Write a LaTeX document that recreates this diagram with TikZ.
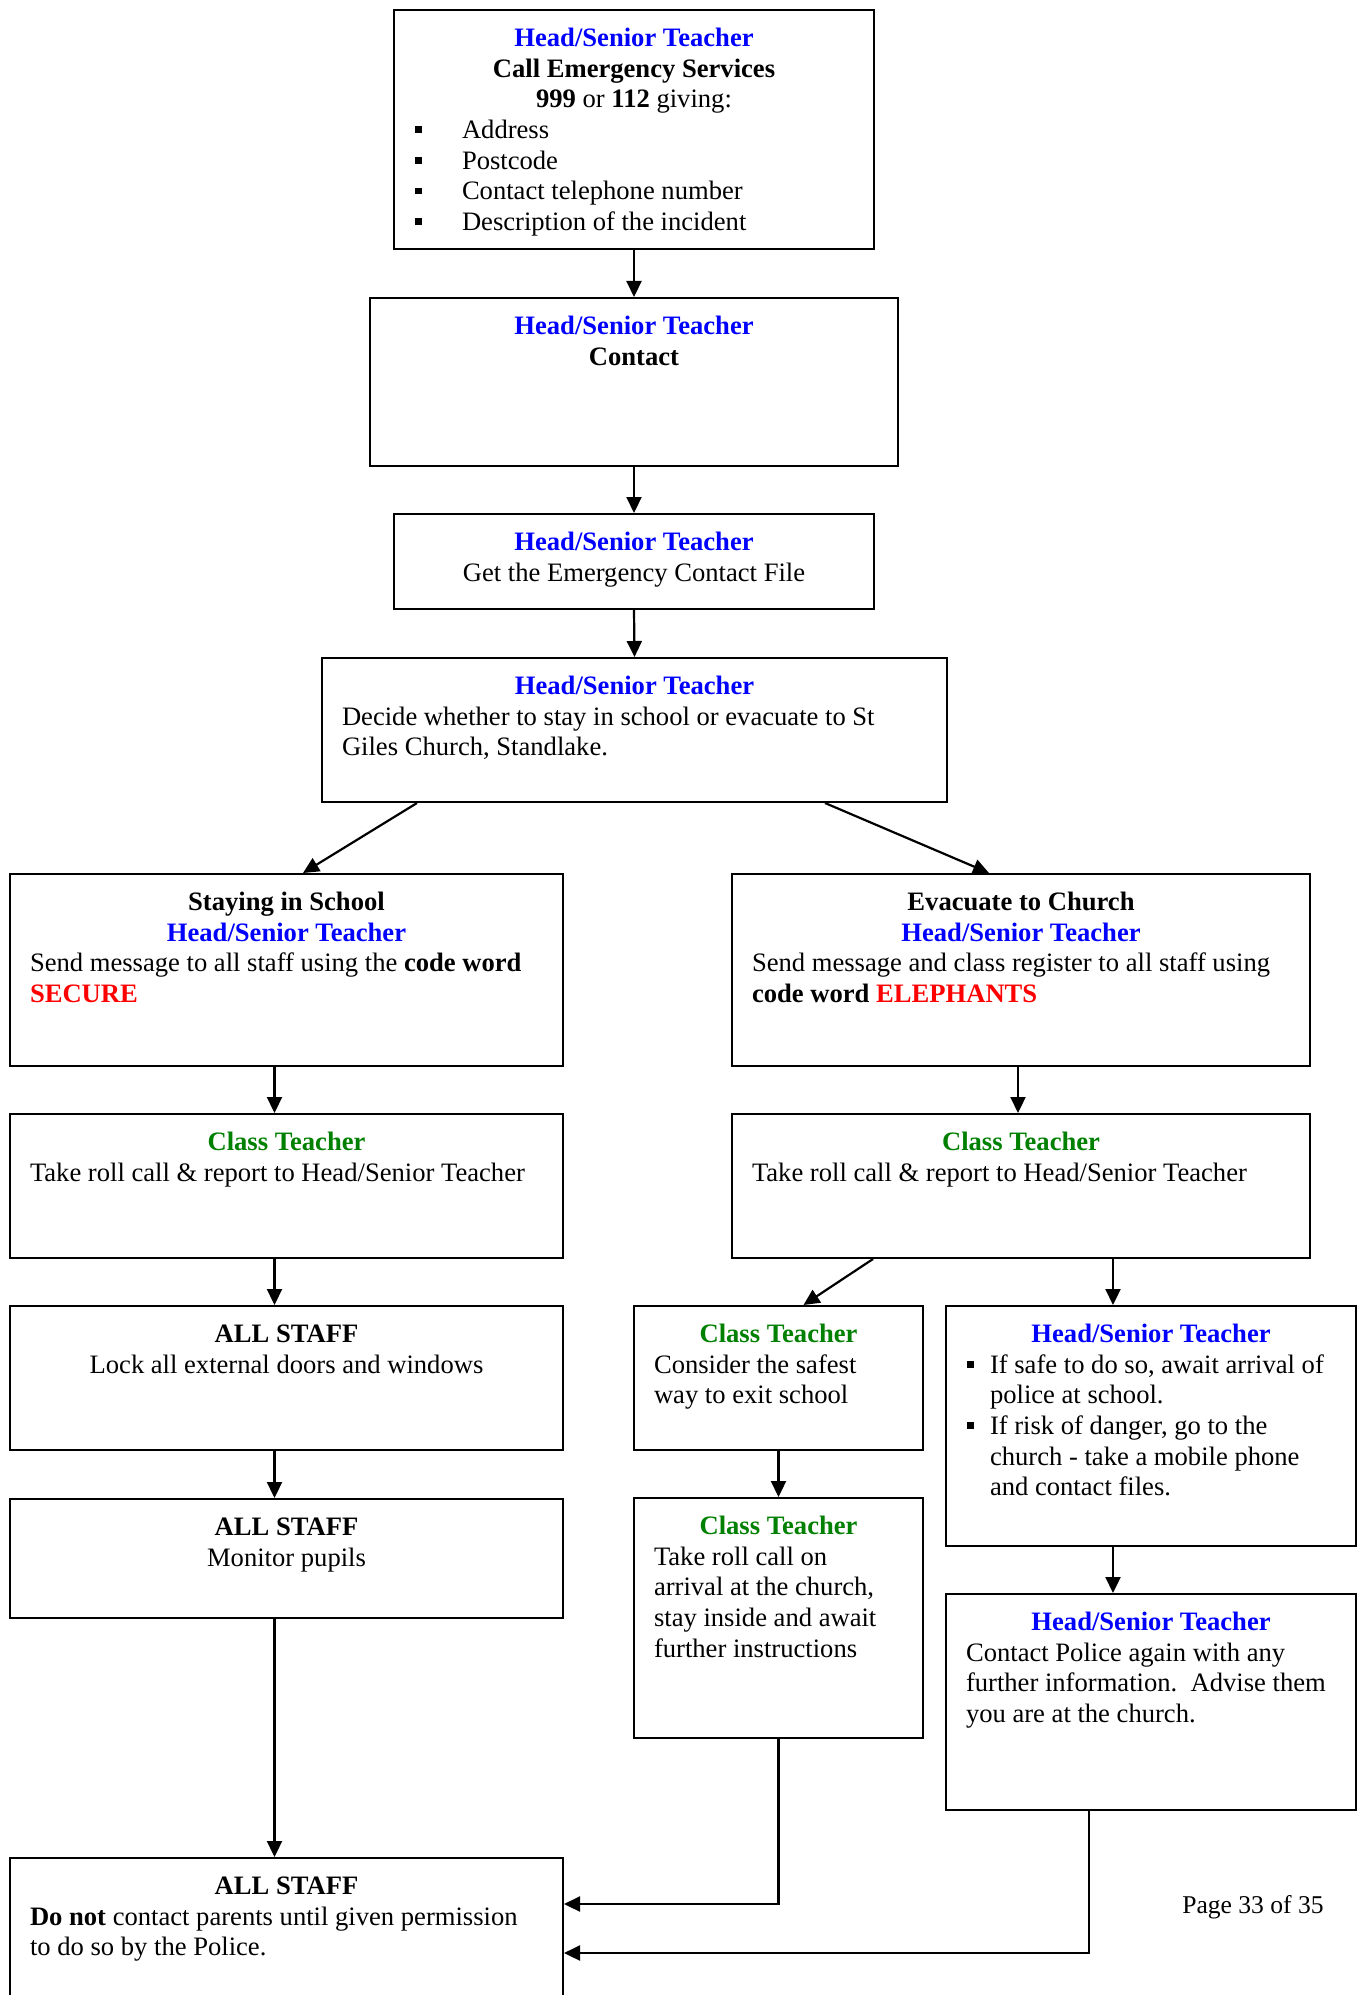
\documentclass[tikz,border=0pt]{standalone}
\usepackage{fontspec}
\setmainfont{Liberation Serif}
\usetikzlibrary{arrows.meta,fit,calc}

\definecolor{hsblue}{RGB}{0,0,255}
\definecolor{ctgreen}{RGB}{0,128,0}
\definecolor{cwred}{RGB}{255,0,0}

\newcommand{\bodyfont}{\fontsize{13.3}{15.3}\selectfont}
\newcommand{\ctrline}[1]{{\centering\strut#1\par}}
\newcommand{\rolehead}[2][hsblue]{\ctrline{\textbf{\color{#1}#2}}}
\newcommand{\sqbullet}{\raisebox{2.6pt}{\rule{3.4pt}{3.4pt}}}
\newcommand{\sqitem}[2][12pt]{\par\hangindent=#1\hangafter=1\noindent\makebox[#1][l]{\hspace{0.6pt}\sqbullet}#2\par}

\begin{document}
\begin{tikzpicture}[x=0.5pt, y=-0.5pt,
    box/.style={draw, line width=1pt, inner sep=0pt},
    txt/.style={anchor=north, align=left, inner xsep=10pt, inner ysep=7.9pt, font=\bodyfont,
        execute at begin node={\spaceskip=0pt\xspaceskip=0pt\relax}},
    link/.style={line width=1.1pt, -{Triangle[length=8pt,width=7.5pt]}}]
    \useasboundingbox (0,0) rectangle (1360,1995);
    \clip (0,0) rectangle (1360,1995);

    % First steps, down the middle
    \node[box, fit={(394,10) (874,249)}] (call) {};
    \node[txt, text width=220pt] (call text) at (call.north) {\rolehead{Head/Senior Teacher}\ctrline{\textbf{Call Emergency Services}}\ctrline{\textbf{999} or \textbf{112} giving:}\sqitem[24pt]{Address}\sqitem[24pt]{Postcode}\sqitem[24pt]{Contact telephone number}\sqitem[24pt]{Description of the incident}};

    \node[box, fit={(370,298) (898,466)}] (contact) {};
    \node[txt, text width=244pt] (contact text) at (contact.north) {\rolehead{Head/Senior Teacher}\ctrline{\textbf{Contact}}};

    \node[box, fit={(394,514) (874,609)}] (file) {};
    \node[txt, text width=220pt] (file text) at (file.north) {\rolehead{Head/Senior Teacher}\ctrline{Get the Emergency Contact File}};

    \node[box, fit={(322,658) (947,802)}] (decide) {};
    \node[txt, text width=292.5pt] (decide text) at (decide.north) {\rolehead{Head/Senior Teacher}Decide whether to stay in school or evacuate to St\newline Giles Church, Standlake.};

    % Staying in school (left column)
    \node[box, fit={(10,874) (563,1066)}] (stay) {};
    \node[txt, text width=256.5pt] (stay text) at (stay.north) {\ctrline{\textbf{Staying in School}}\rolehead{Head/Senior Teacher}Send message to all staff using the \textbf{code word}\newline\textbf{\color{cwred}SECURE}};

    \node[box, fit={(10,1114) (563,1258)}] (rollL) {};
    \node[txt, text width=256.5pt] (rollL text) at (rollL.north) {\rolehead[ctgreen]{Class Teacher}Take roll call \& report to Head/Senior Teacher};

    \node[box, fit={(10,1306) (563,1450)}] (lock) {};
    \node[txt, text width=256.5pt] (lock text) at (lock.north) {\ctrline{\textbf{ALL STAFF}}\ctrline{Lock all external doors and windows}};

    \node[box, fit={(10,1499) (563,1618)}] (monitor) {};
    \node[txt, text width=256.5pt] (monitor text) at (monitor.north) {\ctrline{\textbf{ALL STAFF}}\ctrline{Monitor pupils}};

    \node[box, fit={(10,1858) (563,2040)}] (parents) {};
    \node[txt, text width=256.5pt] (parents text) at (parents.north) {\ctrline{\textbf{ALL STAFF}}\textbf{Do not} contact parents until given permission\newline to do so by the Police.};

    % Evacuate to church (right columns)
    \node[box, fit={(732,874) (1310,1066)}] (evac) {};
    \node[txt, text width=269pt] (evac text) at (evac.north) {\ctrline{\textbf{Evacuate to Church}}\rolehead{Head/Senior Teacher}Send message and class register to all staff using\newline\textbf{code word \color{cwred}ELEPHANTS}};

    \node[box, fit={(732,1114) (1310,1258)}] (rollR) {};
    \node[txt, text width=269pt] (rollR text) at (rollR.north) {\rolehead[ctgreen]{Class Teacher}Take roll call \& report to Head/Senior Teacher};

    \node[box, fit={(634,1306) (923,1450)}] (exit) {};
    \node[txt, text width=124.5pt] (exit text) at (exit.north) {\rolehead[ctgreen]{Class Teacher}Consider the safest\newline way to exit school};

    \node[box, fit={(634,1498) (923,1738)}] (arrive) {};
    \node[txt, text width=124.5pt] (arrive text) at (arrive.north) {\rolehead[ctgreen]{Class Teacher}Take roll call on\newline arrival at the church,\newline stay inside and await\newline further instructions};

    \node[box, fit={(946,1306) (1356,1546)}] (police) {};
    \node[txt, text width=185pt] (police text) at (police.north) {\rolehead{Head/Senior Teacher}\sqitem{If safe to do so, await arrival of\newline police at school.}\sqitem{If risk of danger, go to the\newline church - take a mobile phone\newline and contact files.}};

    \node[box, fit={(946,1594) (1356,1810)}] (again) {};
    \node[txt, text width=185pt] (again text) at (again.north) {\rolehead{Head/Senior Teacher}Contact Police again with any\newline further information.\ \ Advise them\newline you are at the church.};

    \node[font=\fontsize{12.8}{15}\selectfont] (pagenum) at (1253,1907) {Page 33 of 35};

    % Connectors
    \draw[link] (call.south) -- (contact.north);
    \draw[link] (contact.south) -- (file.north);
    \draw[link] (file.south) -- (decide.north);
    \draw[link] ($(decide.south west)+(96,0)$) -- ($(stay.north west)+(294,0)$);
    \draw[link] ($(decide.south west)+(504,0)$) -- ($(evac.north west)+(258,0)$);
    \draw[link] ([xshift=-6pt]stay.south) -- ([xshift=-6pt]rollL.north);
    \draw[link] ([xshift=-1.5pt]evac.south) -- ([xshift=-1.5pt]rollR.north);
    \draw[link] ([xshift=-6pt]rollL.south) -- ([xshift=-6pt]lock.north);
    \draw[link] ([xshift=-6pt]lock.south) -- ([xshift=-6pt]monitor.north);
    \draw[link] ([xshift=-6pt]monitor.south) -- ([xshift=-6pt]parents.north);
    \draw[link] ($(rollR.south west)+(142,0)$) -- ($(exit.north)+(25,0)$);
    \draw[link] ($(rollR.south west)+(382,0)$) -- ($(police.north west)+(168,0)$);
    \draw[link] (exit.south) -- (arrive.north);
    \draw[link] ($(police.south west)+(168,0)$) -- ($(again.north west)+(168,0)$);
    \draw[link] (arrive.south) |- ($(parents.north east)+(0,47)$);
    \draw[link] ($(again.south west)+(144,0)$) |- ($(parents.north east)+(0,96)$);
\end{tikzpicture}
\end{document}
